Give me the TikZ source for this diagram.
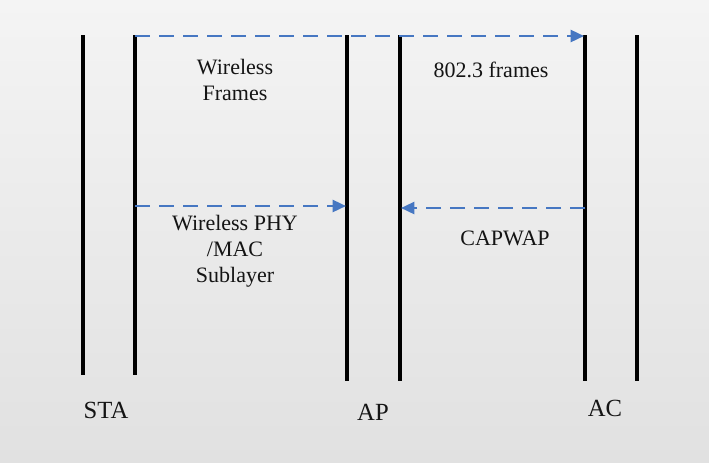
\documentclass[tikz,border=0pt]{standalone}
\usepackage{fontspec}
\setmainfont{Liberation Serif}
\usetikzlibrary{positioning,arrows.meta}
\definecolor{msgblue}{HTML}{4677C2}
\definecolor{bgtop}{HTML}{F4F4F4}
\definecolor{bgbot}{HTML}{E1E1E1}

\begin{document}
\begin{tikzpicture}[
  x=0.75pt, y=-0.75pt,
  entity/.style={line width=2.3pt, black},
  msg/.style={-{Triangle[length=10pt,width=9pt]}, msgblue, line width=1.8pt, dash pattern=on 11pt off 7pt},
  label/.style={font=\fontsize{16.5}{19.5}\selectfont, text=black!92, align=center},
  tag/.style={font=\fontsize{18.5}{22}\selectfont, text=black!92}
  ]
  \shade[top color=bgtop, bottom color=bgbot] (0,0) rectangle (709,462);
  \useasboundingbox (0,0) rectangle (709,462);

  % entity lines
  \coordinate (sta1) at (83,35);
  \coordinate (sta2) at (135,35);
  \coordinate (ap1) at (347,35);
  \coordinate (ap2) at (400,35);
  \coordinate (ac1) at (585,35);
  \coordinate (ac2) at (637,35);
  \draw[entity] (sta1) -- ++(0,340);
  \draw[entity] (sta2) -- ++(0,340);
  \draw[entity] (ap1) -- ++(0,346);
  \draw[entity] (ap2) -- ++(0,346);
  \draw[entity] (ac1) -- ++(0,346);
  \draw[entity] (ac2) -- ++(0,346);

  % message ends
  \coordinate (sta2top) at (135,36);
  \coordinate (ac1top) at (584,36);
  \coordinate (sta2mid) at (135,206);
  \coordinate (ap1mid) at (346,206);
  \coordinate (ac1mid) at (585,208);
  \coordinate (ap2mid) at (401,208);

  \draw[msg] (sta2top) -- (ac1top);
  \draw[msg] (sta2mid) -- (ap1mid);
  \draw[msg] (ac1mid) -- (ap2mid);

  % labels
  \node[label] (wframes) at (235,80) {Wireless\\Frames};
  \node[label] (ethframes) at (491,70) {802.3 frames};
  \node[label] (phymac) at (235,251) {Wireless PHY\\/MAC\\Sublayer};
  \node[label] (capwap) at (505,238) {CAPWAP};

  \node[tag] (sta) at (106,410) {STA};
  \node[tag] (ap) at (373,412) {AP};
  \node[tag] (ac) at (605,408) {AC};
\end{tikzpicture}
\end{document}
